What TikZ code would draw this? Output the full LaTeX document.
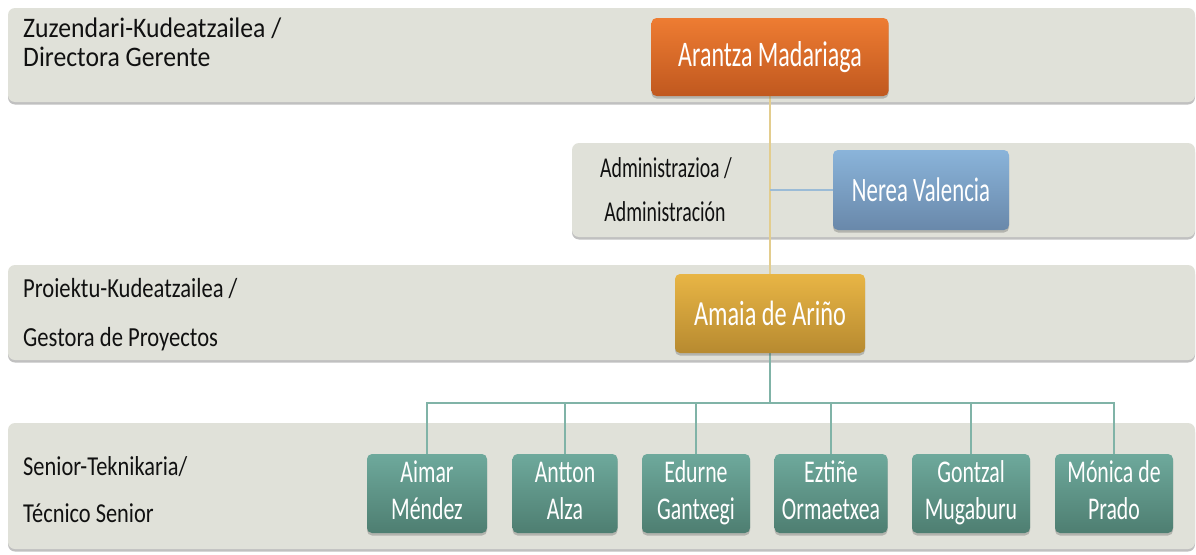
\documentclass[tikz,border=0pt]{standalone}
\usepackage{fontspec}
\setmainfont{Carlito}
\usepackage{graphicx}
\usetikzlibrary{shadows}
\pgfdeclarelayer{bands}
\pgfdeclarelayer{conns}
\pgfsetlayers{bands,conns,main}
\definecolor{bandfill}{HTML}{E0E1D9}
\definecolor{orangeT}{HTML}{EE7C32}
\definecolor{orangeB}{HTML}{C0581F}
\definecolor{goldT}{HTML}{E8B545}
\definecolor{goldB}{HTML}{B78A30}
\definecolor{blueT}{HTML}{8AB4DA}
\definecolor{blueB}{HTML}{6988AA}
\definecolor{tealT}{HTML}{6EA99C}
\definecolor{tealB}{HTML}{4E7E71}
\definecolor{tanline}{HTML}{E3CD8E}
\definecolor{blueline}{HTML}{9BBBD6}
\definecolor{tealline}{HTML}{80B3A7}
\definecolor{labeltext}{HTML}{111111}
\newcommand{\vst}[2]{\scalebox{1}[#1]{#2}}
\newcommand{\twol}[2]{\vst{1.45}{\fontsize{21.8}{25.5}\selectfont\begin{tabular}{@{}c@{}}#1\\#2\end{tabular}}}
\begin{document}
\begin{tikzpicture}[x=1pt,y=-1pt,
  band/.style={draw=none, fill=bandfill, rounded corners=7pt, inner sep=0pt,
    drop shadow={shadow xshift=0pt, shadow yshift=-2.5pt, opacity=0.35, fill=black!70}},
  person/.style={draw=none, rounded corners=5pt, inner sep=0pt, text=white,
    minimum height=79pt,
    drop shadow={shadow xshift=0pt, shadow yshift=-2.5pt, opacity=0.3, fill=black!70}},
  orangebox/.style={person, top color=orangeT, bottom color=orangeB},
  goldbox/.style={person, top color=goldT, bottom color=goldB},
  bluebox/.style={person, top color=blueT, bottom color=blueB},
  tealbox/.style={person, top color=tealT, bottom color=tealB, minimum height=79pt},
  lbl/.style={anchor=base west, inner sep=0pt, text=labeltext},
  tanconn/.style={draw=tanline, line width=1.8pt},
  blueconn/.style={draw=blueline, line width=1.8pt},
  tealconn/.style={draw=tealline, line width=1.8pt}
]
\begin{pgfonlayer}{bands}
\fill[white] (0,0) rectangle (1196,554);
\node[band, minimum width=1187pt, minimum height=94pt] (b1) at (601.5,55) {};
\node[band, minimum width=623pt, minimum height=94pt] (b2) at (883.5,190) {};
\node[band, minimum width=1187pt, minimum height=95pt] (b3) at (601.5,312.5) {};
\node[band, minimum width=1187pt, minimum height=126pt] (b4) at (601.5,486) {};
\end{pgfonlayer}
\useasboundingbox (0,0) rectangle (1196,554);

% band labels
\node[lbl, font=\fontsize{25.7}{30}\selectfont] (l1a) at (23,37) {\vst{1.1}{Zuzendari-Kudeatzailea /}};
\node[lbl, font=\fontsize{25.7}{30}\selectfont] (l1b) at (23,66) {\vst{1.1}{Directora Gerente}};
\node[anchor=base, inner sep=0pt, text=labeltext, font=\fontsize{19.8}{24}\selectfont] (l2a) at (666,177) {\vst{1.45}{Administrazioa /}};
\node[anchor=base, inner sep=0pt, text=labeltext, font=\fontsize{19.8}{24}\selectfont] (l2b) at (665,221) {\vst{1.45}{Administración}};
\node[lbl, font=\fontsize{22.6}{27}\selectfont] (l3a) at (23,297) {\vst{1.22}{Proiektu-Kudeatzailea /}};
\node[lbl, font=\fontsize{22.6}{27}\selectfont] (l3b) at (23,346) {\vst{1.22}{Gestora de Proyectos}};
\node[lbl, font=\fontsize{22.4}{27}\selectfont] (l4a) at (23,475) {\vst{1.22}{Senior-Teknikaria/}};
\node[lbl, font=\fontsize{22.4}{27}\selectfont] (l4b) at (23,522) {\vst{1.22}{Técnico Senior}};

% people
\node[orangebox, minimum width=237pt, minimum height=78pt, font=\fontsize{24}{28}\selectfont] (ar) at (770,57) {\vst{1.5}{Arantza Madariaga}};
\node[bluebox, minimum width=176pt, minimum height=80pt, font=\fontsize{22.8}{28}\selectfont] (ne) at (921,190) {\vst{1.5}{Nerea Valencia}};
\node[goldbox, minimum width=190pt, minimum height=79pt, font=\fontsize{24.3}{28}\selectfont] (am) at (770,313.5) {\vst{1.45}{Amaia de Ariño}};

\node[tealbox, minimum width=120pt] (t1) at (427,493.5) {\twol{Aimar}{Méndez}};
\node[tealbox, minimum width=105pt] (t2) at (565,493.5) {\twol{Antton}{Alza}};
\node[tealbox, minimum width=108pt] (t3) at (696,493.5) {\twol{Edurne}{Gantxegi}};
\node[tealbox, minimum width=113pt] (t4) at (831,493.5) {\twol{Eztiñe}{Ormaetxea}};
\node[tealbox, minimum width=118pt] (t5) at (971,493.5) {\twol{Gontzal}{Mugaburu}};
\node[tealbox, minimum width=118pt] (t6) at (1114,493.5) {\twol{Mónica de}{Prado}};

% connectors
\begin{pgfonlayer}{conns}
\coordinate (bus) at (am.south |- 0,403);
\draw[tanconn] (am.north) -- (am.north |- ar.south);
\draw[blueconn] (am.north |- ne.west) -- (ne.west);
\draw[tealconn] (am.south) -- (bus);
\foreach \t in {t1,t2,t3,t4,t5,t6} {
  \draw[tealconn] (bus) -| (\t.north);
}
\end{pgfonlayer}
\end{tikzpicture}
\end{document}
